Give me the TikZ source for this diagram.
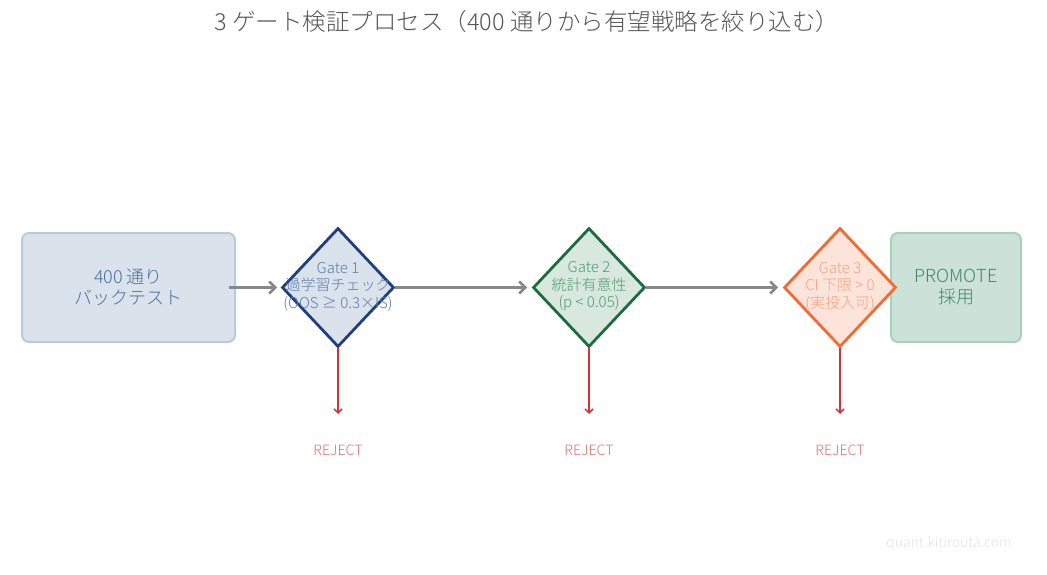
\documentclass[tikz,border=0pt]{standalone}
\usepackage{fontspec}
\setmainfont{Noto Sans CJK JP Light}
\usetikzlibrary{arrows.meta,shapes.geometric}
\definecolor{titlec}{HTML}{555555}
\definecolor{bluefill}{HTML}{DAE2EC}
\definecolor{blueedge}{HTML}{B9CBDF}
\definecolor{bluetext}{HTML}{4A6F9C}
\definecolor{navy}{HTML}{1F3F7F}
\definecolor{g1text}{HTML}{5B7CA8}
\definecolor{greenfill}{HTML}{D8E8DF}
\definecolor{darkgreen}{HTML}{1D6B3E}
\definecolor{g2text}{HTML}{4D9A6F}
\definecolor{orangefill}{HTML}{FDE4DB}
\definecolor{orangeedge}{HTML}{F26B35}
\definecolor{g3text}{HTML}{F4A080}
\definecolor{promofill}{HTML}{CCE2D8}
\definecolor{promoedge}{HTML}{A9D0BD}
\definecolor{promotext}{HTML}{3C8A60}
\definecolor{arrowgrey}{HTML}{888888}
\definecolor{rejred}{HTML}{D0343A}
\definecolor{rejtext}{HTML}{E07070}
\definecolor{wmark}{HTML}{E2E2E2}
\tikzset{
  endbox/.style={draw, line width=2pt, rounded corners=7pt, minimum width=213pt, minimum height=109pt, align=center, font=\fontsize{18}{21}\selectfont},
  gate/.style={diamond, draw, line width=2.8pt, minimum width=112pt, minimum height=119pt, inner sep=0pt, align=center, aspect=0.94},
  gatetext/.style={align=center, font=\fontsize{15}{17.5}\selectfont},
  flow/.style={draw=arrowgrey, line width=2.6pt, -{Straight Barb[length=6pt,width=12pt]}},
  rej/.style={draw=rejred, line width=1.5pt, -{Straight Barb[length=4pt,width=8pt]}},
  rejlabel/.style={text=rejtext, font=\fontsize{14.2}{16}\selectfont}
}
\begin{document}
\begin{tikzpicture}[x=1pt,y=-1pt]
\useasboundingbox (0,0) rectangle (1047,575);
\node[text=titlec, font=\fontsize{23.5}{27}\selectfont] (title) at (527,22) {3 ゲート検証プロセス（400 通りから有望戦略を絞り込む）};
\node[endbox, fill=bluefill, draw=blueedge, text=bluetext] (start) at (128.5,287.5) {400 通り\\バックテスト};
\node[endbox, fill=promofill, draw=promoedge, text=promotext, minimum width=130pt] (promote) at (956,287.5) {PROMOTE\\採用};
\node[gate, fill=bluefill, draw=navy] (g1) at (338,287.5) {};
\node[gatetext, text=g1text] (t1) at (338,286.5) {Gate 1\\過学習チェック\\(OOS ≥ 0.3×IS)};
\node[gate, fill=greenfill, draw=darkgreen] (g2) at (589,287.5) {};
\node[gatetext, text=g2text] (t2) at (589,286.5) {Gate 2\\統計有意性\\(p < 0.05)};
\node[gate, fill=orangefill, draw=orangeedge] (g3) at (840,287.5) {};
\node[gatetext, text=g3text] (t3) at (840,286.5) {Gate 3\\CI 下限 > 0\\(実投入可)};
\coordinate (a0) at (229,287.5);
\coordinate (a1) at (277,287.5);
\coordinate (b1) at (527,287.5);
\coordinate (c1) at (778,287.5);
\draw[flow] (a0) -- (a1);
\draw[flow] (g1.east) -- (b1);
\draw[flow] (g2.east) -- (c1);
\node[rejlabel] (r1) at (338,450) {REJECT};
\node[rejlabel] (r2) at (589,450) {REJECT};
\node[rejlabel] (r3) at (840,450) {REJECT};
\coordinate (d1) at (338,414);
\coordinate (d2) at (589,414);
\coordinate (d3) at (840,414);
\draw[rej] (g1.south) -- (d1);
\draw[rej] (g2.south) -- (d2);
\draw[rej] (g3.south) -- (d3);
\node[text=wmark, font=\fontsize{14}{16}\selectfont] (wm) at (949,544) {quant.kitirouta.com};
\end{tikzpicture}
\end{document}
